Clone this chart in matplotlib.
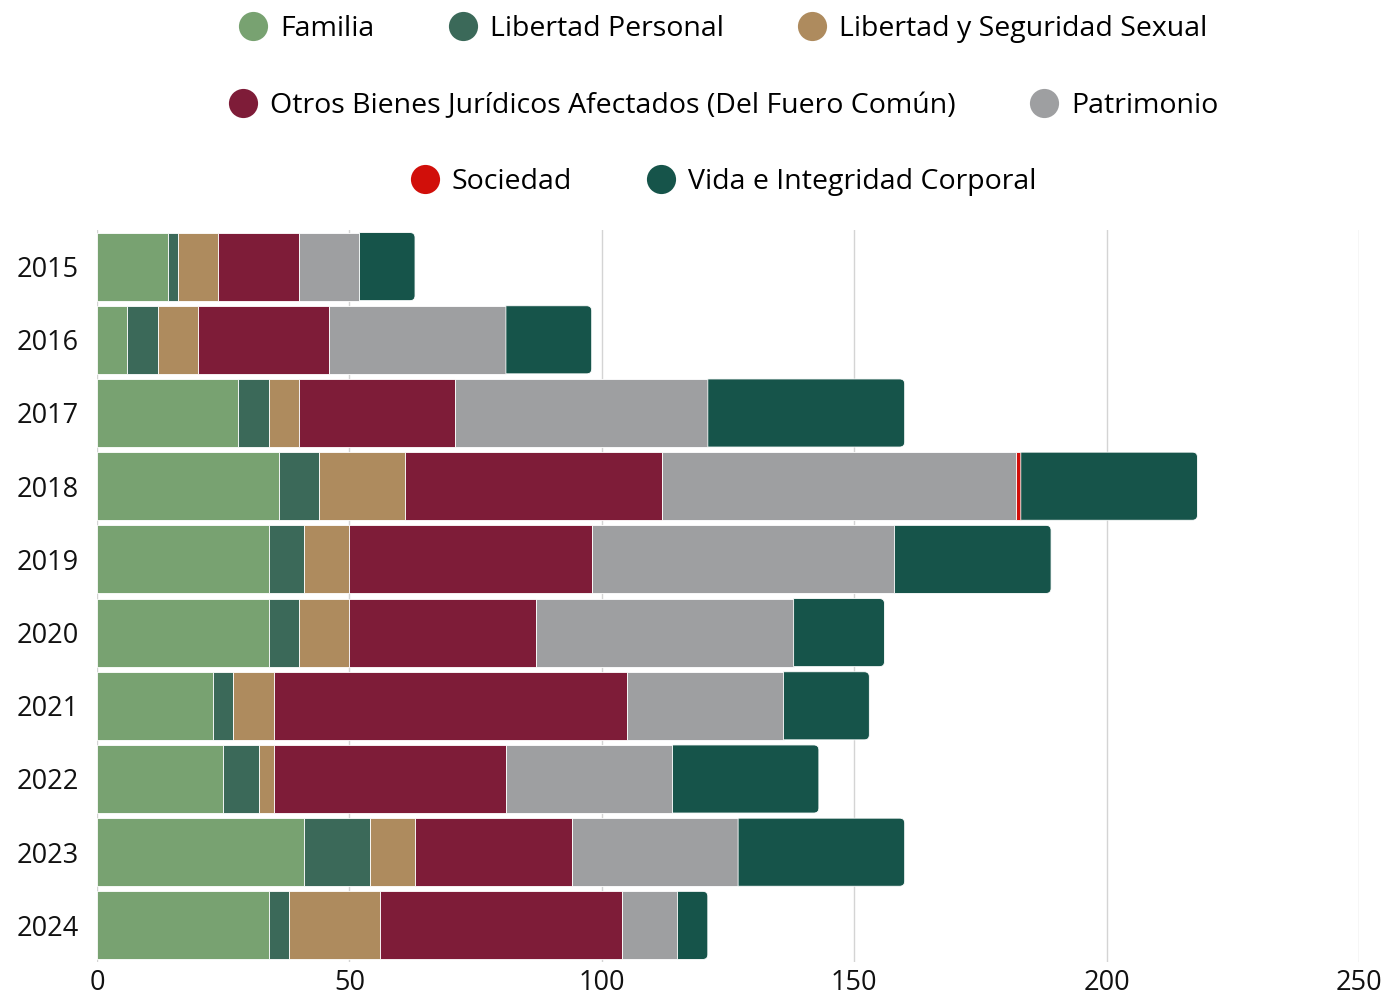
import matplotlib.pyplot as plt
from matplotlib.patches import PathPatch
from matplotlib.path import Path
from matplotlib.lines import Line2D

plt.rcParams['font.family'] = ['Open Sans', 'DejaVu Sans']

years = ['2015', '2016', '2017', '2018', '2019', '2020', '2021', '2022', '2023', '2024']

categories = ['Familia', 'Libertad Personal', 'Libertad y Seguridad Sexual',
              'Otros Bienes Jurídicos Afectados (Del Fuero Común)', 'Patrimonio',
              'Sociedad', 'Vida e Integridad Corporal']

familia = [14, 6, 28, 36, 34, 34, 23, 25, 41, 34]
libertad_personal = [2, 6, 6, 8, 7, 6, 4, 7, 13, 4]
libertad_sexual = [8, 8, 6, 17, 9, 10, 8, 3, 9, 18]
otros_bienes = [16, 26, 31, 51, 48, 37, 70, 46, 31, 48]
patrimonio = [12, 35, 50, 70, 60, 51, 31, 33, 33, 11]
sociedad = [0, 0, 0, 1, 0, 0, 0, 0, 0, 0]
vida = [11, 17, 39, 35, 31, 18, 17, 29, 33, 6]

series = [familia, libertad_personal, libertad_sexual, otros_bienes,
          patrimonio, sociedad, vida]
colors = ['#78a271', '#3b6959', '#ae8b5e', '#7e1c38', '#9e9fa1', '#d10f0a', '#16544a']

fig = plt.figure(figsize=(13.87, 9.98), dpi=100)
ax = fig.add_axes([97 / 1387, 1 - 962 / 998, 1262 / 1387, 732 / 998])

ax.set_xlim(0, 250)
ax.set_ylim(len(years) - 0.5, -0.5)

bar_h = 0.93
# corner radius of about 5 px, expressed in each axis' data units
rx = 5 * 250 / 1262
ry = 5 * len(years) / 732


def rounded_end(x0, x1, y0, y1):
    verts = [(x0, y0), (x1 - rx, y0), (x1, y0), (x1, y0 + ry),
             (x1, y1 - ry), (x1, y1), (x1 - rx, y1), (x0, y1), (x0, y0)]
    codes = [Path.MOVETO, Path.LINETO, Path.CURVE3, Path.CURVE3,
             Path.LINETO, Path.CURVE3, Path.CURVE3, Path.LINETO, Path.CLOSEPOLY]
    return Path(verts, codes)


for i in range(len(years)):
    segs = [(s[i], c) for s, c in zip(series, colors) if s[i] > 0]
    left = 0
    for j, (val, col) in enumerate(segs):
        if j < len(segs) - 1:
            ax.barh(i, val, left=left, height=bar_h, color=col,
                    edgecolor='white', linewidth=0.6, zorder=3)
        else:
            # last segment gets a rounded right end
            path = rounded_end(left, left + val, i - bar_h / 2, i + bar_h / 2)
            ax.add_patch(PathPatch(path, facecolor=col, edgecolor='white',
                                   linewidth=0.6, zorder=3))
        left += val

ax.set_yticks(range(len(years)))
ax.set_yticklabels(years)
ax.set_xticks([0, 50, 100, 150, 200, 250])
ax.tick_params(axis='both', length=0, labelsize=19.5, colors='#111111')
ax.tick_params(axis='y', pad=13)
ax.tick_params(axis='x', pad=5)
ax.grid(axis='x', color='#d4d4d4', linewidth=1, zorder=0)
for s in ax.spines.values():
    s.set_visible(False)

# legend in three centred rows
rows = [[0, 1, 2], [3, 4], [5, 6]]
row_y = [29, 106, 182]
for idx, yp in zip(rows, row_y):
    handles = [Line2D([], [], marker='o', linestyle='none', markersize=21,
                      markerfacecolor=colors[k], markeredgecolor='none')
               for k in idx]
    fig.legend(handles, [categories[k] for k in idx], loc='center',
               bbox_to_anchor=(722 / 1387, 1 - yp / 998), ncol=len(idx),
               frameon=False, fontsize=20.5, handletextpad=0.35,
               columnspacing=2.5, handlelength=1.2)

fig.savefig('out.png', dpi=100)
